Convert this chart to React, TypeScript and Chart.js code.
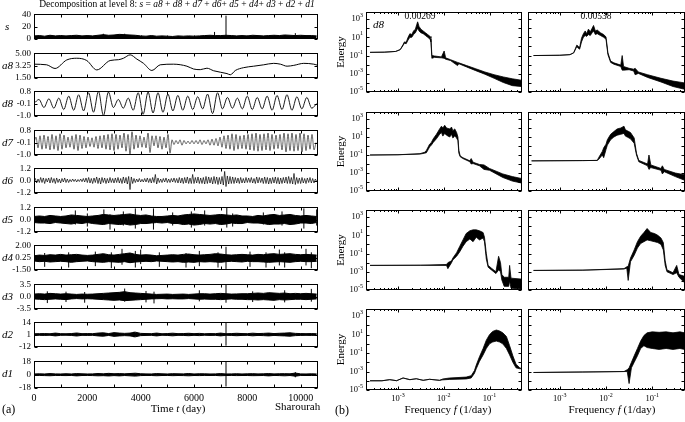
import React, { useEffect, useRef } from 'react';
import { Chart, registerables } from 'chart.js';

Chart.register(...registerables);

const SERIF = "'Liberation Serif', 'Times New Roman', serif";
Chart.defaults.font.family = SERIF;
Chart.defaults.color = '#000';

// ================= (a) decomposition data =================
const timeMax = 10650;
const timeTickValues = [0, 2000, 4000, 6000, 8000, 10000];
const timeTickLabels = ['0', '2000', '4000', '6000', '8000', '10000'];
const timeMinorTicks = [0, 1000, 2000, 3000, 4000, 5000, 6000, 7000, 8000, 9000, 10000];
const bandStep = 200; // days between band samples

// s : envelope of the raw series (0..40)
const sTicks = [0, 20, 40];
const sTickLabels = ['0', '20', '40'];
const sHi = [4.5, 5, 4, 5.5, 4.5, 5, 4.5, 5, 5.5, 4.5, 5, 4.5, 5.5, 6.5, 5.5, 6, 7, 6.5, 6, 5.5,
  4.5, 4, 5, 4, 4.5, 4, 3.5, 4.5, 4, 4.5, 4, 4.5, 5, 5.5, 5, 5, 5.5, 5, 4.5,
  5, 4.5, 5.5, 5, 4.5, 5, 5.5, 5, 6, 5.5, 5, 5.5, 5, 5, 4.5];
const sSpikeT = [2600, 3400, 6770, 7200, 9800];
const sSpikeLo = [0, 0, 0, 0, 0];
const sSpikeHi = [8, 8, 11, 38, 9];

// a8 : approximation
const a8Ticks = [1.5, 3.25, 5];
const a8TickLabels = ['1.50', '3.25', '5.00'];
const a8T = [0, 476, 789, 1227, 1602, 1978, 2354, 2855, 3168, 3355, 3606, 3856, 4107, 4420, 4733, 5233,
  5734, 5985, 6235, 6485, 6736, 7237, 7362, 7550, 7863, 8238, 8614, 8989, 9240, 9490, 9741, 10116, 10491, 10650];
const a8V = [3.44, 3.35, 2.82, 4.05, 4.3, 3.97, 2.61, 3.97, 4.09, 4.3, 4.79, 4.18, 3.56, 2.53, 3.35, 3.44,
  3.15, 2.74, 2.65, 2.86, 2.49, 2.08, 1.91, 2.53, 2.94, 3.15, 3.35, 3.56, 3.44, 3.15, 3.27, 3.56, 3.44, 3.27];

// d8 : extrema every half period
const d8Ticks = [-1.0, -0.1, 0.8];
const d8TickLabels = ['-1.0', '-0.1', '0.8'];
const d8Step = 186;
const d8V = [-0.1, 0.2, -0.4, 0.25, -0.45, 0.3, -0.55, 0.45, -0.6, 0.55, -0.65, 0.7, -0.75, 0.8, -1.0, 0.75,
  -0.4, 0.2, -0.45, 0.3, -0.6, 0.7, -0.9, 0.75, -0.8, 0.7, -0.75, 0.6, -0.65, 0.5, -0.6, 0.45, -0.55, 0.4,
  -0.5, 0.6, -0.85, 0.7, -0.5, 0.35, -0.45, 0.3, -0.5, 0.45, -0.55, 0.35, -0.5, 0.45, -0.6, 0.5, -0.55, 0.55,
  -0.6, 0.4, -0.5, 0.35, -0.45, -0.1];

// d7
const d7Ticks = [-1.0, -0.1, 0.8];
const d7TickLabels = ['-1.0', '-0.1', '0.8'];
const d7Step = 75;
const d7V = [-0.1,
  0.3, -0.5, 0.4, -0.6, 0.45, -0.55, 0.35, -0.65, 0.5, -0.6, 0.4, -0.7, 0.55, -0.6, 0.45, -0.5, 0.3, -0.45, 0.4, -0.6,
  0.5, -0.7, 0.45, -0.55, 0.35, -0.5, 0.3, -0.4, 0.25, -0.45, 0.35, -0.55, 0.4, -0.5, 0.45, -0.6, 0.5, -0.65, 0.55, -0.7,
  0.5, -0.6, 0.45, -0.5, 0.6, -0.75, 0.5, -0.95, 0.7, -0.6, 0.45, -0.5, 0.4, -0.45, 0.3, -0.5, 0.6, -0.85, 0.4, -0.35,
  0.4, -0.5, 0.35, -0.6, 0.3, -0.5, 0.5, -0.9, 0.1, -0.25, 0.05, -0.2, 0.1, -0.3, 0.05, -0.2, 0.0, -0.2, 0.05, -0.2,
  0.05, -0.2, 0.1, -0.25, 0.05, -0.2, 0.1, -0.3, 0.15, -0.3, 0.2, -0.35, 0.3, -0.45, 0.4, -0.55, 0.45, -0.6, 0.55, -0.7,
  0.5, -0.6, 0.4, -0.55, 0.45, -0.6, 0.5, -0.65, 0.55, -0.7, 0.6, -0.75, 0.5, -0.7, 0.55, -0.65, 0.6, -0.7, 0.5, -0.6,
  0.45, -0.55, 0.5, -0.65, 0.6, -0.8, 0.55, -0.7, 0.6, -0.75, 0.5, -0.7, 0.6, -0.8, 0.55, -0.7, 0.45, -0.6, 0.5, -0.65,
  -0.1];

// d6
const d6Ticks = [-1.2, 0, 1.2];
const d6TickLabels = ['-1.2', '0.0', '1.2'];
const d6Step = 50;
const d6V = [0.0,
  0.2, -0.25, 0.15, -0.2, 0.3, -0.2, 0.25, -0.3, 0.2, -0.15, 0.25, -0.25, 0.3, -0.2, 0.2, -0.3, 0.25, -0.2, 0.15, -0.25,
  0.2, -0.15, 0.25, -0.2, 0.15, -0.2, 0.1, -0.12, 0.15, -0.1, 0.12, -0.15, 0.1, -0.1, 0.15, -0.12, 0.2, -0.15, 0.25, -0.2,
  0.3, -0.25, 0.2, -0.3, 0.25, -0.2, 0.35, -0.3, 0.25, -0.35, 0.3, -0.2, 0.25, -0.3, 0.2, -0.25, 0.3, -0.2, 0.2, -0.25,
  0.25, -0.2, 0.3, -0.25, 0.2, -0.3, 0.35, -0.25, 0.3, -0.35, 0.4, -0.9, 0.35, -0.3, 0.2, -0.2, 0.15, -0.15, 0.2, -0.15,
  0.12, -0.15, 0.2, -0.15, 0.25, -0.2, 0.2, -0.25, 0.3, -0.2, 0.6, -0.35, 0.25, -0.2, 0.15, -0.2, 0.2, -0.15, 0.25, -0.2,
  0.15, -0.2, 0.2, -0.15, 0.25, -0.2, 0.2, -0.25, 0.3, -0.25, 0.25, -0.3, 0.3, -0.25, 0.35, -0.3, 0.25, -0.3, 0.6, -0.3,
  0.3, -0.25, 0.35, -0.3, 0.25, -0.3, 0.3, -0.35, 0.4, -0.3, 0.35, -0.25, 0.3, -0.35, 0.4, -0.3, 0.35, -0.4, 0.3, -0.35,
  0.4, -0.45, 0.9, -0.6, 0.45, -0.35, 0.4, -0.3, 0.35, -0.3, 0.3, -0.25, 0.25, -0.3, 0.3, -0.25, 0.2, -0.25, 0.3, -0.2,
  0.25, -0.2, 0.3, -0.25, 0.2, -0.3, 0.35, -0.25, 0.3, -0.2, 0.25, -0.3, 0.35, -0.3, 0.3, -0.35, 0.25, -0.3, 0.3, -0.25,
  0.35, -0.3, 0.3, -0.35, 0.25, -0.3, 0.3, -0.25, 0.35, -0.3, 0.4, -0.3, 0.3, -0.35, 0.7, -0.4, 0.3, -0.3, 0.25, -0.3,
  0.3, -0.25, 0.2, -0.3, 0.25, -0.2, 0.3, -0.25, 0.2, -0.25, 0.15, -0.1];

// d5
const d5Ticks = [-1.2, 0, 1.2];
const d5TickLabels = ['-1.2', '0.0', '1.2'];
const d5Hi = [0.3, 0.35, 0.3, 0.4, 0.35, 0.3, 0.35, 0.45, 0.4, 0.35,
  0.3, 0.35, 0.4, 0.5, 0.45, 0.4, 0.45, 0.5, 0.55, 0.45,
  0.4, 0.45, 0.35, 0.3, 0.3, 0.35, 0.4, 0.35, 0.45, 0.5,
  0.55, 0.5, 0.45, 0.4, 0.45, 0.5, 0.45, 0.4, 0.45, 0.35,
  0.35, 0.3, 0.4, 0.35, 0.45, 0.5, 0.4, 0.45, 0.5, 0.4,
  0.35, 0.4, 0.35, 0.3];
const d5Lo = [-0.3, -0.35, -0.35, -0.4, -0.3, -0.35, -0.4, -0.45, -0.35, -0.4,
  -0.3, -0.4, -0.45, -0.5, -0.4, -0.45, -0.5, -0.45, -0.55, -0.5,
  -0.4, -0.4, -0.35, -0.3, -0.35, -0.3, -0.4, -0.4, -0.5, -0.45,
  -0.55, -0.5, -0.4, -0.45, -0.4, -0.5, -0.45, -0.35, -0.4, -0.4,
  -0.3, -0.35, -0.35, -0.4, -0.5, -0.45, -0.45, -0.4, -0.5, -0.45,
  -0.35, -0.35, -0.4, -0.3];
const d5SpikeT = [1550, 2000, 2620, 2850, 3350, 3800, 4480, 5200, 5900, 6400, 7230, 7450, 8600, 9300, 10120, 10600];
const d5SpikeLo = [-0.5, -0.7, -0.4, -1.0, -0.6, -0.9, -1.0, -0.6, -0.8, -0.6, -0.8, -0.7, -0.5, -0.6, -0.9, -0.6];
const d5SpikeHi = [0.9, 0.6, 1.0, 0.5, 0.8, 1.1, 1.1, 0.7, 0.8, 0.9, 1.2, 0.6, 0.7, 0.8, 1.1, 1.0];

// d4
const d4Ticks = [-1.5, 0.25, 2.0];
const d4TickLabels = ['-1.50', '0.25', '2.00'];
const d4Hi = [0.5, 0.6, 0.55, 0.65, 0.6, 0.7, 0.6, 0.65, 0.7, 0.6,
  0.55, 0.6, 0.7, 0.8, 0.65, 0.6, 0.7, 0.8, 0.9, 0.7,
  0.6, 0.65, 0.6, 0.5, 0.55, 0.6, 0.65, 0.6, 0.7, 0.75,
  0.65, 0.6, 0.65, 0.7, 0.8, 0.75, 0.65, 0.6, 0.65, 0.7,
  0.65, 0.6, 0.7, 0.65, 0.75, 0.8, 0.7, 0.75, 0.8, 0.7,
  0.65, 0.7, 0.65, 0.6];
const d4Lo = [-0.25, -0.35, -0.3, -0.4, -0.35, -0.3, -0.35, -0.45, -0.35, -0.3,
  -0.25, -0.35, -0.4, -0.45, -0.35, -0.4, -0.45, -0.35, -0.5, -0.4,
  -0.35, -0.3, -0.35, -0.25, -0.3, -0.35, -0.4, -0.35, -0.45, -0.4,
  -0.45, -0.35, -0.4, -0.35, -0.4, -0.45, -0.35, -0.3, -0.35, -0.4,
  -0.3, -0.35, -0.35, -0.4, -0.45, -0.4, -0.35, -0.4, -0.45, -0.35,
  -0.3, -0.35, -0.35, -0.3];
const d4SpikeT = [400, 1300, 2300, 2900, 3300, 3800, 4000, 4700, 5700, 6200, 6900, 7200, 8100, 8700, 9200, 9400, 10200, 10400];
const d4SpikeLo = [-1.1, -1.2, -1.0, -1.3, -0.8, -1.2, -0.7, -1.1, -1.2, -1.0, -1.2, -1.4, -1.1, -1.2, -0.9, -1.2, -0.9, -1.3];
const d4SpikeHi = [0.9, 1.0, 1.1, 1.0, 1.5, 1.2, 1.4, 1.0, 0.9, 1.2, 1.0, 1.8, 1.1, 1.0, 1.4, 1.0, 1.5, 1.0];

// d3
const d3Ticks = [-3.5, 0, 3.5];
const d3TickLabels = ['-3.5', '0.0', '3.5'];
const d3Hi = [0.7, 0.8, 0.7, 0.9, 0.8, 0.7, 0.8, 0.7, 0.6, 0.7,
  0.65, 0.7, 0.8, 0.9, 1.0, 1.1, 1.2, 1.4, 1.1, 1.0,
  0.9, 0.8, 0.7, 0.6, 0.65, 0.7, 0.6, 0.65, 0.7, 0.6,
  0.7, 0.8, 0.8, 0.7, 0.8, 0.9, 0.8, 0.7, 0.75, 0.8,
  0.8, 0.9, 1.0, 0.9, 1.1, 1.0, 0.9, 1.0, 0.8, 0.9,
  0.8, 0.9, 0.8, 0.7];
const d3Lo = [-0.7, -0.8, -0.9, -0.8, -0.7, -0.8, -0.9, -0.7, -0.6, -0.7,
  -0.65, -0.7, -0.8, -0.9, -1.0, -1.1, -1.0, -1.2, -1.1, -1.0,
  -0.9, -0.8, -0.7, -0.65, -0.6, -0.7, -0.65, -0.7, -0.7, -0.6,
  -0.7, -0.8, -0.75, -0.8, -0.8, -0.9, -0.8, -0.7, -0.8, -0.8,
  -0.9, -0.9, -1.0, -0.9, -1.0, -1.1, -0.9, -1.0, -0.9, -0.8,
  -0.8, -0.9, -0.8, -0.7];
const d3SpikeT = [500, 1200, 1900, 3400, 4200, 4500, 6200, 7200, 8200, 9400, 10400];
const d3SpikeLo = [-1.9, -1.6, -1.8, -1.5, -1.7, -2.0, -1.4, -1.8, -1.6, -1.7, -1.5];
const d3SpikeHi = [1.5, 1.4, 1.3, 2.3, 1.6, 1.4, 1.8, 3.5, 1.5, 1.8, 2.2];

// d2
const d2Ticks = [-12, 1, 14];
const d2TickLabels = ['-12', '1', '14'];
const d2Hi = [1.8, 1.9, 2.0, 1.8, 2.5, 1.9, 1.8, 2.0, 2.6, 1.9,
  2.0, 1.9, 2.5, 2.8, 2.0, 3.0, 2.5, 2.2, 2.5, 3.5,
  2.2, 2.0, 1.9, 2.5, 1.8, 2.0, 2.4, 1.9, 2.0, 2.3,
  1.9, 2.2, 1.8, 2.0, 1.9, 2.5, 1.8, 2.0, 2.3, 2.0,
  1.9, 2.4, 2.0, 2.2, 2.5, 2.0, 2.3, 2.5, 2.8, 2.2,
  2.0, 1.9, 2.0, 1.8];
const d2Lo = [0.2, 0.1, 0.0, 0.2, -0.5, 0.1, 0.2, 0.0, -0.6, 0.1,
  0.0, 0.1, -0.5, -0.8, 0.0, -1.0, -0.5, -0.2, -0.5, -1.5,
  -0.2, 0.0, 0.1, -0.5, 0.2, 0.0, -0.4, 0.1, 0.0, -0.3,
  0.1, -0.2, 0.2, 0.0, 0.1, -0.5, 0.2, 0.0, -0.3, 0.0,
  0.1, -0.4, 0.0, -0.2, -0.5, 0.0, -0.3, -0.5, -0.8, -0.2,
  0.0, 0.1, 0.0, 0.2];
const d2SpikeT = [3750, 7200];
const d2SpikeLo = [-2, -11];
const d2SpikeHi = [4, 14];

// d1
const d1Ticks = [-18, 0, 18];
const d1TickLabels = ['-18', '0', '18'];
const d1Hi = [1.0, 1.2, 1.0, 1.5, 1.1, 1.0, 1.3, 1.0, 1.5, 1.2,
  1.0, 1.1, 1.6, 1.2, 1.8, 1.3, 1.5, 1.2, 1.6, 2.0,
  1.3, 1.1, 1.0, 1.5, 1.2, 1.0, 1.4, 1.2, 1.1, 1.6,
  1.0, 1.3, 1.2, 1.0, 1.1, 1.5, 1.0, 1.1, 1.3, 1.0,
  1.2, 1.4, 1.1, 1.2, 1.5, 1.1, 1.3, 1.4, 1.2, 2.2,
  1.1, 1.0, 1.2, 1.0];
const d1Lo = [-1.1, -1.0, -1.2, -1.4, -1.0, -1.1, -1.2, -1.0, -1.6, -1.1,
  -1.0, -1.2, -1.5, -1.3, -1.7, -1.2, -1.6, -1.1, -1.5, -1.9,
  -1.2, -1.0, -1.1, -1.4, -1.1, -1.0, -1.3, -1.1, -1.2, -1.5,
  -1.1, -1.2, -1.0, -1.1, -1.0, -1.4, -1.1, -1.0, -1.2, -1.1,
  -1.1, -1.3, -1.2, -1.1, -1.6, -1.0, -1.2, -1.5, -1.1, -2.0,
  -1.0, -1.1, -1.1, -1.0];
const d1SpikeT = [7200, 9800];
const d1SpikeLo = [-16, -3.5];
const d1SpikeHi = [18, 3.5];

// ================= (b) energy spectra data =================
const freqMin = 2e-4;
const freqMax = 0.5;
const energyMin = 1e-5;
const energyMax = 6000;
const freqTickExps = [-3, -2, -1];
const energyTickExps = [3, 1, -1, -3, -5];

const specF1 = [2.45e-4, 5.0e-4, 8.9e-4, 1.12e-3, 1.29e-3, 1.38e-3, 1.51e-3, 1.66e-3, 1.82e-3, 2.0e-3, 2.19e-3, 2.4e-3, 2.57e-3, 2.69e-3, 2.88e-3, 3.16e-3, 3.55e-3, 3.98e-3, 4.47e-3, 5.01e-3, 5.25e-3, 5.5e-3, 6.3e-3, 8.9e-3, 1.02e-2, 1.1e-2, 1.41e-2, 2.0e-2, 2.14e-2, 3.16e-2, 5.0e-2, 7.9e-2, 0.126, 0.2, 0.316, 0.49];
const specUp1 = [0.224, 0.234, 0.282, 0.447, 1.58, 3.16, 2.82, 10, 25.1, 20, 50, 79, 251, 501, 158, 79, 50, 31.6, 20, 12.6, 7.9, 0.1, 0.089, 0.071, 0.316, 0.056, 0.035, 0.0178, 0.0158, 0.0079, 0.00355, 0.00158, 0.00079, 0.00045, 0.00028, 0.0002];
const specLo1 = [0.224, 0.234, 0.282, 0.447, 1.26, 2.24, 2.0, 5.0, 10, 10, 20, 31.6, 63, 100, 50, 31.6, 25.1, 15.8, 10, 6.3, 3.16, 0.05, 0.063, 0.056, 0.05, 0.04, 0.028, 0.0079, 0.0126, 0.0056, 0.0022, 0.00089, 0.00032, 0.00011, 0.00005, 0.00004];

const specF2 = [2.7e-4, 1.0e-3, 1.66e-3, 2.0e-3, 2.19e-3, 2.34e-3, 2.51e-3, 2.69e-3, 2.95e-3, 3.24e-3, 3.55e-3, 3.8e-3, 4.17e-3, 4.57e-3, 5.01e-3, 5.38e-3, 5.89e-3, 6.46e-3, 7.59e-3, 8.91e-3, 1.0e-2, 1.1e-2, 1.26e-2, 1.48e-2, 2.09e-2, 2.24e-2, 2.4e-2, 3.16e-2, 3.98e-2, 4.27e-2, 5.01e-2, 7.94e-2, 0.155, 0.282, 0.5];
const specUp2 = [0.1, 0.107, 0.126, 0.2, 0.63, 1.41, 1.0, 0.79, 7.9, 25.1, 50, 25.1, 79, 39.8, 100, 200, 50, 63, 31.6, 20, 11.2, 0.2, 0.025, 0.0158, 0.0089, 0.1, 0.0063, 0.004, 0.0032, 0.004, 0.00158, 0.00079, 0.00032, 0.000158, 0.0001];
const specLo2 = [0.1, 0.107, 0.126, 0.2, 0.5, 1.0, 0.63, 0.5, 3.16, 10, 15.8, 12.6, 20, 15.8, 31.6, 50, 20, 25.1, 15.8, 10, 6.3, 0.126, 0.0178, 0.0112, 0.0063, 0.0025, 0.0025, 0.0028, 0.002, 0.00079, 0.0011, 0.0004, 0.000126, 0.00004, 0.00002];

const specF3 = [2.45e-4, 1.0e-3, 3.02e-3, 3.8e-3, 4.17e-3, 4.57e-3, 4.9e-3, 5.37e-3, 5.89e-3, 6.92e-3, 8.13e-3, 8.91e-3, 9.55e-3, 1.05e-2, 1.15e-2, 1.35e-2, 1.48e-2, 1.58e-2, 1.74e-2, 1.91e-2, 2.04e-2, 2.14e-2, 2.29e-2, 2.63e-2, 3.72e-2, 3.98e-2, 4.37e-2, 6.03e-2, 7.59e-2, 0.1, 0.195, 0.316, 0.49];
const specUp3 = [0.1, 0.107, 0.141, 0.2, 0.316, 0.79, 1.58, 2.51, 6.3, 20, 79, 158, 100, 200, 100, 79, 126, 50, 79, 31.6, 10, 0.316, 0.079, 0.05, 0.0224, 0.04, 0.0158, 0.0089, 0.0079, 0.0032, 0.00079, 0.0004, 0.00025];
const specLo3 = [0.1, 0.107, 0.126, 0.158, 0.178, 0.4, 0.79, 1.26, 2.51, 6.3, 20, 31.6, 12.6, 25.1, 15.8, 10, 20, 7.9, 12.6, 7.9, 3.98, 0.158, 0.063, 0.04, 0.0178, 0.01, 0.0112, 0.0063, 0.0025, 0.002, 0.00032, 0.000126, 0.000079];

const specF4 = [2.45e-4, 3.16e-3, 6.46e-3, 6.92e-3, 8.32e-3, 8.91e-3, 1.0e-2, 1.07e-2, 1.26e-2, 1.48e-2, 1.74e-2, 2.09e-2, 2.45e-2, 2.63e-2, 2.88e-2, 3.39e-2, 4.07e-2, 4.57e-2, 5.13e-2, 7.94e-2, 8.51e-2, 9.33e-2, 0.155, 0.166, 0.182, 0.316, 0.5];
const specUp4 = [0.0224, 0.024, 0.025, 0.05, 0.25, 0.63, 1.58, 5.0, 20, 39.8, 79, 100, 158, 63, 50, 31.6, 7.9, 0.158, 0.025, 0.01, 0.1, 0.0079, 0.0032, 0.0063, 0.0025, 0.001, 0.00063];
const specLo4 = [0.0224, 0.024, 0.025, 0.0316, 0.1, 0.05, 0.4, 1.26, 5.0, 10, 15.8, 20, 25.1, 12.6, 10, 6.3, 2.0, 0.1, 0.0178, 0.0063, 0.0025, 0.004, 0.002, 0.00079, 0.0014, 0.0004, 0.000158];

const specF5 = [2.45e-4, 3.16e-3, 1.15e-2, 1.23e-2, 1.48e-2, 1.58e-2, 1.91e-2, 2.24e-2, 2.63e-2, 3.09e-2, 3.72e-2, 4.37e-2, 5.13e-2, 6.03e-2, 7.24e-2, 7.76e-2, 8.51e-2, 9.33e-2, 0.11, 0.138, 0.158, 0.174, 0.186, 0.209, 0.263, 0.275, 0.295, 0.49];
const specUp5 = [0.005, 0.0052, 0.0063, 0.01, 0.0158, 0.0316, 0.126, 0.63, 3.16, 15.8, 31.6, 39.8, 39.8, 31.6, 20, 6.3, 0.1, 0.005, 0.0025, 0.001, 0.05, 0.01, 0.0005, 0.00025, 0.00025, 0.005, 0.0002, 0.000158];
const specLo5 = [0.005, 0.0052, 0.005, 0.0022, 0.01, 0.02, 0.05, 0.158, 0.63, 2.0, 3.98, 2.0, 6.3, 3.16, 5.0, 2.0, 0.025, 0.0032, 0.0016, 0.00063, 0.0016, 0.001, 0.000126, 0.000025, 0.000025, 0.0001, 0.000016, 0.0000126];

const specF6 = [2.7e-4, 3.16e-3, 2.45e-2, 2.82e-2, 3.02e-2, 3.39e-2, 4.07e-2, 4.79e-2, 5.62e-2, 6.61e-2, 7.76e-2, 9.33e-2, 0.112, 0.132, 0.155, 0.174, 0.191, 0.209, 0.282, 0.339, 0.38, 0.5];
const specUp6 = [0.0014, 0.0015, 0.0022, 0.0035, 0.004, 0.0316, 0.25, 2.0, 7.9, 20, 56, 20, 15.8, 10, 5.0, 1.58, 0.0158, 0.0016, 0.00079, 0.005, 0.0005, 0.00032];
const specLo6 = [0.0014, 0.0015, 0.002, 0.0025, 0.000112, 0.0126, 0.063, 0.4, 1.26, 2.0, 3.16, 2.51, 2.0, 1.58, 1.0, 0.25, 0.005, 0.001, 0.0005, 0.00079, 0.00025, 0.000063];

const specF7 = [2.45e-4, 4.47e-4, 6.61e-4, 9.33e-4, 1.29e-3, 1.82e-3, 2.51e-3, 3.55e-3, 4.9e-3, 8.13e-3, 9.55e-3, 1.35e-2, 3.09e-2, 3.98e-2, 4.68e-2, 5.13e-2, 6.03e-2, 7.24e-2, 8.51e-2, 0.1, 0.117, 0.141, 0.166, 0.195, 0.234, 0.275, 0.324, 0.38, 0.457, 0.49];
const specUp7 = [1e-4, 1e-4, 1.32e-4, 1.02e-4, 2e-4, 1.32e-4, 1.66e-4, 1.12e-4, 1.45e-4, 1.12e-4, 1.58e-4, 2e-4, 2.51e-4, 3.55e-4, 1.26e-3, 5e-3, 0.04, 0.316, 2.51, 10, 22.4, 31.6, 25.1, 15.8, 6.3, 0.63, 0.05, 0.0063, 0.0025, 0.0022];
const specLo7 = [1e-4, 1e-4, 1.32e-4, 1.02e-4, 2e-4, 1.32e-4, 1.66e-4, 1.12e-4, 1.45e-4, 1.12e-4, 1.26e-4, 1.41e-4, 1.58e-4, 2e-4, 6.3e-4, 2e-3, 0.0126, 0.063, 0.316, 1.0, 1.58, 2.0, 1.58, 1.0, 0.316, 0.063, 0.01, 0.0025, 0.002, 0.002];

const specF8 = [2.7e-4, 3.16e-3, 2.45e-2, 2.88e-2, 3.16e-2, 3.55e-2, 4.07e-2, 4.79e-2, 5.62e-2, 6.61e-2, 7.76e-2, 0.1, 0.141, 0.2, 0.282, 0.398, 0.5];
const specUp8 = [7.9e-4, 8.9e-4, 1e-3, 1.58e-3, 2.51e-3, 0.01, 0.05, 0.316, 2.0, 7.9, 15.8, 20, 17.8, 20, 15.8, 20, 15.8];
const specLo8 = [7.9e-4, 8.9e-4, 1e-3, 1e-3, 5e-5, 2.51e-3, 0.01, 0.05, 0.316, 0.63, 0.4, 0.316, 0.25, 0.316, 0.25, 0.316, 0.25];

// ================= helpers =================
const seriesPoints = (vals: number[], step: number) => vals.map((v, i) => ({ x: i * step, y: v }));
const pairPoints = (xs: number[], ys: number[]) => xs.map((x, i) => ({ x, y: ys[i] }));
const spikePoints = (ts: number[], lo: number[], hi: number[]) =>
  ts.flatMap((t, i) => [{ x: t, y: lo[i] }, { x: t, y: hi[i] }, { x: t, y: null }]);

const lineDs = (data: any[], extra: any = {}) => ({
  data, borderColor: '#000', backgroundColor: '#000', borderWidth: 1, pointRadius: 0,
  fill: false, tension: 0, ...extra,
});

const decadeTicks: number[] = [];
for (let e = -5; e <= 3; e++) decadeTicks.push(Math.pow(10, e));
const freqMajor = freqTickExps.map((e) => Math.pow(10, e));
const freqMinor: number[] = [];
for (let e = -4; e <= -1; e++) for (let m = 2; m <= 9; m++) {
  const v = m * Math.pow(10, e);
  if (v > freqMin && v < freqMax) freqMinor.push(v);
}

function drawPow(ctx: any, exp: number, x: number, y: number, align: string) {
  const sup = String(exp);
  ctx.font = `8.5px ${SERIF}`;
  const wb = ctx.measureText('10').width;
  ctx.font = `6px ${SERIF}`;
  const ws = ctx.measureText(sup).width;
  const total = wb + ws;
  const x0 = align === 'right' ? x - total : x - total / 2;
  ctx.textAlign = 'left';
  ctx.textBaseline = 'middle';
  ctx.font = `8.5px ${SERIF}`;
  ctx.fillText('10', x0, y);
  ctx.font = `6px ${SERIF}`;
  ctx.fillText(sup, x0 + wb, y - 3.5);
}

const framePlugin = {
  id: 'frame',
  afterDatasetsDraw(chart: any, _args: any, o: any) {
    const ctx = chart.ctx;
    const a = chart.chartArea;
    const xs = chart.scales.x;
    const ys = chart.scales.y;
    const L = Math.round(a.left) + 0.5;
    const R = Math.round(a.right) - 0.5;
    const T = Math.round(a.top) + 0.5;
    const B = Math.round(a.bottom) - 0.5;
    ctx.save();
    ctx.strokeStyle = '#000';
    ctx.lineWidth = 1;
    ctx.strokeRect(L, T, R - L, B - T);
    ctx.beginPath();
    const xt = (list: number[], len: number) => list.forEach((v) => {
      const p = Math.round(xs.getPixelForValue(v)) + 0.5;
      ctx.moveTo(p, T); ctx.lineTo(p, T + len);
      ctx.moveTo(p, B); ctx.lineTo(p, B - len);
    });
    const yt = (list: number[], len: number) => list.forEach((v) => {
      const p = Math.round(ys.getPixelForValue(v)) + 0.5;
      ctx.moveTo(L, p); ctx.lineTo(L + len, p);
      ctx.moveTo(R, p); ctx.lineTo(R - len, p);
    });
    xt(o.xMajor || [], o.majorLen);
    xt(o.xMinor || [], o.minorLen || 2);
    yt(o.yMajor || [], o.majorLen);
    ctx.stroke();
    ctx.fillStyle = '#000';
    if (o.yExp) o.yExp.forEach((e: number) => drawPow(ctx, e, a.left - 3, ys.getPixelForValue(Math.pow(10, e)), 'right'));
    if (o.xExp) o.xExp.forEach((e: number) => drawPow(ctx, e, xs.getPixelForValue(Math.pow(10, e)), a.bottom + 9, 'center'));
    ctx.restore();
  },
};

// ================= panel specs =================
const leftTops = [12, 51, 89, 128, 166, 205, 243, 282, 320, 359];
const leftBoxH = 29;

const leftPanels = [
  { name: 's', ticks: sTicks, labels: sTickLabels,
    ds: () => [lineDs(seriesPoints(sHi, bandStep), { fill: 'origin' }), lineDs(spikePoints(sSpikeT, sSpikeLo, sSpikeHi))] },
  { name: 'a8', ticks: a8Ticks, labels: a8TickLabels,
    ds: () => [lineDs(pairPoints(a8T, a8V), { cubicInterpolationMode: 'monotone' })] },
  { name: 'd8', ticks: d8Ticks, labels: d8TickLabels,
    ds: () => [lineDs(seriesPoints(d8V, d8Step), { cubicInterpolationMode: 'monotone', borderWidth: 0.9 })] },
  { name: 'd7', ticks: d7Ticks, labels: d7TickLabels,
    ds: () => [lineDs(seriesPoints(d7V, d7Step), { cubicInterpolationMode: 'monotone', borderWidth: 0.6 })] },
  { name: 'd6', ticks: d6Ticks, labels: d6TickLabels,
    ds: () => [lineDs(seriesPoints(d6V, d6Step), { borderWidth: 0.7 })] },
  { name: 'd5', ticks: d5Ticks, labels: d5TickLabels,
    ds: () => [lineDs(seriesPoints(d5Hi, bandStep)), lineDs(seriesPoints(d5Lo, bandStep), { fill: '-1' }), lineDs(spikePoints(d5SpikeT, d5SpikeLo, d5SpikeHi))] },
  { name: 'd4', ticks: d4Ticks, labels: d4TickLabels,
    ds: () => [lineDs(seriesPoints(d4Hi, bandStep)), lineDs(seriesPoints(d4Lo, bandStep), { fill: '-1' }), lineDs(spikePoints(d4SpikeT, d4SpikeLo, d4SpikeHi))] },
  { name: 'd3', ticks: d3Ticks, labels: d3TickLabels,
    ds: () => [lineDs(seriesPoints(d3Hi, bandStep)), lineDs(seriesPoints(d3Lo, bandStep), { fill: '-1' }), lineDs(spikePoints(d3SpikeT, d3SpikeLo, d3SpikeHi))] },
  { name: 'd2', ticks: d2Ticks, labels: d2TickLabels,
    ds: () => [lineDs(seriesPoints(d2Hi, bandStep)), lineDs(seriesPoints(d2Lo, bandStep), { fill: '-1' }), lineDs(spikePoints(d2SpikeT, d2SpikeLo, d2SpikeHi))] },
  { name: 'd1', ticks: d1Ticks, labels: d1TickLabels,
    ds: () => [lineDs(seriesPoints(d1Hi, bandStep)), lineDs(seriesPoints(d1Lo, bandStep), { fill: '-1' }), lineDs(spikePoints(d1SpikeT, d1SpikeLo, d1SpikeHi))] },
];

function leftConfig(p: any, isBottom: boolean): any {
  return {
    type: 'line',
    data: { datasets: p.ds() },
    plugins: [framePlugin],
    options: {
      animation: false, responsive: false, events: [],
      layout: { padding: { top: 6, bottom: isBottom ? 0 : 6, left: 0, right: 7 } },
      plugins: {
        legend: { display: false }, tooltip: { enabled: false },
        frame: { xMajor: timeMinorTicks, yMajor: p.ticks, majorLen: 3 },
      },
      scales: {
        x: {
          type: 'linear', min: 0, max: timeMax, display: isBottom,
          grid: { display: false, drawTicks: false }, border: { display: false },
          ticks: { autoSkip: false, maxRotation: 0, padding: 4, font: { size: 10 }, color: '#000',
            callback: (_v: any, i: number) => timeTickLabels[i] },
          afterBuildTicks: (s: any) => { s.ticks = timeTickValues.map((v) => ({ value: v })); },
          afterFit: (s: any) => { if (isBottom) s.height = 34; },
        },
        y: {
          type: 'linear', min: p.ticks[0], max: p.ticks[2],
          grid: { display: false, drawTicks: false }, border: { display: false },
          ticks: { autoSkip: false, padding: 3, font: { size: 9 }, color: '#000',
            callback: (_v: any, i: number) => p.labels[i] },
          afterBuildTicks: (s: any) => { s.ticks = p.ticks.map((v: number) => ({ value: v })); },
          afterFit: (s: any) => { s.width = 34; },
        },
      },
    },
  };
}

const spectra = [
  [{ f: specF1, up: specUp1, lo: specLo1 }, { f: specF2, up: specUp2, lo: specLo2 }],
  [{ f: specF3, up: specUp3, lo: specLo3 }, { f: specF4, up: specUp4, lo: specLo4 }],
  [{ f: specF5, up: specUp5, lo: specLo5 }, { f: specF6, up: specUp6, lo: specLo6 }],
  [{ f: specF7, up: specUp7, lo: specLo7 }, { f: specF8, up: specUp8, lo: specLo8 }],
];
const rightTops = [12, 112, 210, 309];
const rightHeights = [80, 79, 80, 81];
const colLeft = [330, 522];
const colWidth = [192, 163];
const colAxisW = [36, 5.5];

function specConfig(s: any, col: number, row: number): any {
  const isC1 = col === 0;
  const isBottom = row === 3;
  return {
    type: 'line',
    data: {
      datasets: [
        lineDs(pairPoints(s.f, s.up), { borderWidth: 0.8 }),
        lineDs(pairPoints(s.f, s.lo), { borderWidth: 0.8, fill: '-1' }),
      ],
    },
    plugins: [framePlugin],
    options: {
      animation: false, responsive: false, events: [],
      layout: { padding: { top: 6, bottom: isBottom ? 32 : 6, left: 0, right: 0.5 } },
      plugins: {
        legend: { display: false }, tooltip: { enabled: false },
        frame: {
          xMajor: freqMajor, xMinor: freqMinor, yMajor: decadeTicks, majorLen: 3, minorLen: 1.5,
          yExp: isC1 ? energyTickExps : null, xExp: isBottom ? freqTickExps : null,
        },
      },
      scales: {
        x: { type: 'logarithmic', min: freqMin, max: freqMax, display: false },
        y: {
          type: 'logarithmic', min: energyMin, max: energyMax, display: true,
          grid: { display: false, drawTicks: false }, border: { display: false },
          ticks: { display: false },
          title: { display: isC1, text: 'Energy', color: '#000', font: { size: 11 }, padding: { top: 5, bottom: 0 } },
          afterFit: (sc: any) => { sc.width = colAxisW[col]; },
        },
      },
    },
  };
}

function ChartCanvas({ left, top, width, height, make }: any) {
  const ref = useRef<HTMLCanvasElement>(null);
  useEffect(() => {
    const chart = new Chart(ref.current as HTMLCanvasElement, make());
    return () => chart.destroy();
  }, []);
  return (
    <canvas ref={ref} width={width} height={height}
      style={{ position: 'absolute', left, top, width, height }} />
  );
}

const txt = (extra: any): any => ({
  position: 'absolute', fontFamily: SERIF, color: '#000', whiteSpace: 'nowrap', lineHeight: 1, ...extra,
});

export default function App() {
  return (
    <div style={{ position: 'absolute', left: 0, top: 0, width: 685, height: 422, background: '#fff', overflow: 'hidden' }}>
      {leftPanels.map((p, i) => {
        const isBottom = i === leftPanels.length - 1;
        const top = leftTops[i] - 6;
        const height = isBottom ? 422 - top : leftBoxH + 12;
        return <ChartCanvas key={p.name} left={0} top={top} width={325} height={height} make={() => leftConfig(p, isBottom)} />;
      })}
      {spectra.map((row, r) => row.map((s, c) => {
        const top = rightTops[r] - 6;
        const height = r === 3 ? 422 - top : rightHeights[r] + 12;
        return <ChartCanvas key={`sp${r}${c}`} left={colLeft[c]} top={top} width={colWidth[c]} height={height} make={() => specConfig(s, c, r)} />;
      }))}

      <div style={txt({ left: 177, top: 0, fontSize: 9.5, transform: 'translateX(-50%)' })}>
        Decomposition at level 8: <i>s</i> = <i>a8</i> + <i>d8</i> + <i>d7</i> + <i>d6</i>+ <i>d5</i> + <i>d4</i>+ <i>d3</i> + <i>d2</i> + <i>d1</i>
      </div>
      {leftPanels.map((p, i) => (
        <div key={`n${p.name}`} style={txt({ left: p.name === 's' ? 5 : 2, top: leftTops[i] + leftBoxH / 2 - 5.5, fontSize: 11, fontStyle: 'italic' })}>{p.name}</div>
      ))}
      <div style={txt({ left: 2, top: 403, fontSize: 12 })}>(a)</div>
      <div style={txt({ left: 178, top: 403, fontSize: 11, transform: 'translateX(-50%)' })}>Time <i>t</i> (day)</div>
      <div style={txt({ left: 275, top: 401, fontSize: 11 })}>Sharourah</div>

      <div style={txt({ left: 373, top: 19, fontSize: 11, fontStyle: 'italic' })}>d8</div>
      <div style={txt({ left: 420, top: 12, fontSize: 9.5, transform: 'translateX(-50%)' })}>0.00269</div>
      <div style={txt({ left: 596, top: 12, fontSize: 9.5, transform: 'translateX(-50%)' })}>0.00538</div>
      <div style={txt({ left: 335, top: 404, fontSize: 12 })}>(b)</div>
      <div style={txt({ left: 448, top: 404, fontSize: 11, transform: 'translateX(-50%)' })}>Frequency <i>f</i> (1/day)</div>
      <div style={txt({ left: 612, top: 404, fontSize: 11, transform: 'translateX(-50%)' })}>Frequency <i>f</i> (1/day)</div>
    </div>
  );
}
